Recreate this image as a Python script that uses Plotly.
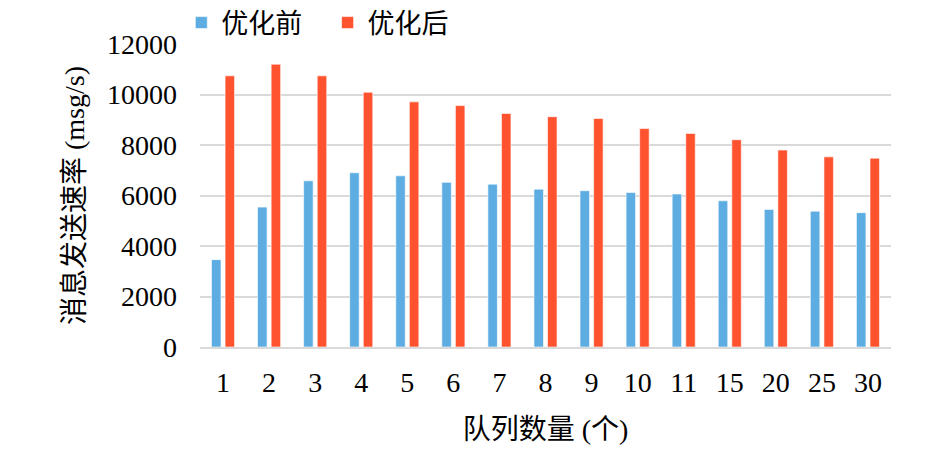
import plotly.graph_objects as go

# Data
queues = ["1", "2", "3", "4", "5", "6", "7", "8", "9", "10", "11", "15", "20", "25", "30"]
before_opt = [3460, 5540, 6580, 6900, 6780, 6520, 6450, 6250, 6190, 6120, 6060, 5790, 5450, 5380, 5320]
after_opt = [10740, 11200, 10740, 10090, 9710, 9560, 9250, 9120, 9050, 8650, 8460, 8210, 7800, 7530, 7480]

FONT = "Liberation Serif, Times New Roman, Noto Sans CJK SC, serif"
BLUE = "#5DADE2"
RED = "#FF5330"

fig = go.Figure()
fig.add_trace(go.Bar(x=queues, y=before_opt, name="优化前   ",
                     marker=dict(color=BLUE, line=dict(color="rgba(255,255,255,0.6)", width=1))))
fig.add_trace(go.Bar(x=queues, y=after_opt, name="优化后",
                     marker=dict(color=RED, line=dict(color="rgba(255,255,255,0.6)", width=1))))

# page body adds an 8px margin, so the figure is sized a little smaller
fig.update_layout(
    width=938, height=442,
    margin=dict(l=192, r=55, t=36, b=103, autoexpand=False),
    plot_bgcolor="white", paper_bgcolor="white",
    barmode="group", bargap=0.41, bargroupgap=0.3,
    font=dict(family=FONT, size=28, color="black"),
    legend=dict(orientation="h", x=-0.027, xanchor="left",
                y=0.966, yref="container", yanchor="middle",
                font=dict(size=27), itemwidth=30, tracegroupgap=0,
                bgcolor="rgba(0,0,0,0)"),
)

fig.update_xaxes(
    type="category", showgrid=False, showline=True, linecolor="#d9d9d9", linewidth=1.5,
    ticks="", ticklabelstandoff=10, automargin=False,
    title=dict(text="队列数量 (个)", font=dict(size=28), standoff=22),
)
fig.update_yaxes(
    range=[0, 12000], dtick=2000, tickformat="d",
    showgrid=True, gridcolor="#d9d9d9", gridwidth=1.5,
    zeroline=False, showline=False, ticks="", ticklabelstandoff=22, automargin=False,
    title=dict(text="消息发送速率 (msg/s)", font=dict(size=28), standoff=14),
)

fig.write_html("out.html")
